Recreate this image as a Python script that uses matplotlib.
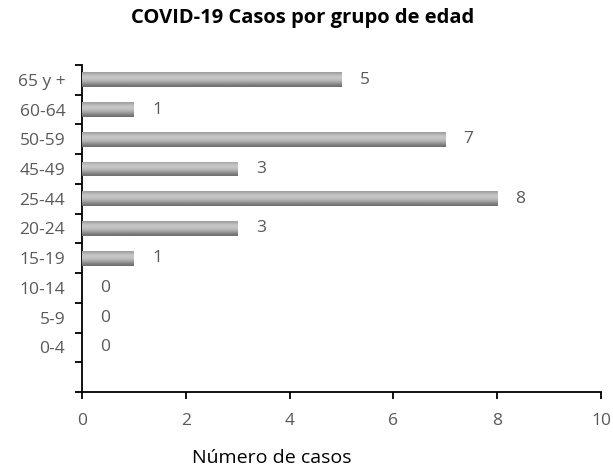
import numpy as np
import matplotlib
matplotlib.use("Agg")
import matplotlib.pyplot as plt

grupos = ["", "0-4", "5-9", "10-14", "15-19", "20-24", "25-44", "45-49", "50-59", "60-64", "65 y +"]
casos = [np.nan, 0, 0, 0, 1, 3, 8, 3, 7, 1, 5]
xticks = [0, 2, 4, 6, 8, 10]

plt.rcParams['font.family'] = ['Open Sans', 'DejaVu Sans']
gris = '#595959'

fig = plt.figure(figsize=(6.13, 4.69), dpi=100)
ax = fig.add_axes([0.1338, 0.1642, 0.8466, 0.6972])

y = np.arange(len(grupos))
vals = np.nan_to_num(casos)
bars = ax.barh(y, vals, height=0.5, color='#a6a6a6', edgecolor='none', zorder=2)

# degradado gris en cada barra (de abajo hacia arriba)
grad = np.array([0.44, 0.50, 0.58, 0.66, 0.72, 0.76, 0.78, 0.76, 0.70, 0.63]).reshape(-1, 1)
for b in bars:
    w = b.get_width()
    if w <= 0:
        continue
    x0, y0, h = b.get_x(), b.get_y(), b.get_height()
    im = ax.imshow(grad, cmap='gray', vmin=0, vmax=1, aspect='auto',
                   extent=[x0, x0 + w, y0, y0 + h], origin='lower', zorder=3,
                   interpolation='bilinear')
    im.set_clip_path(b)

for yi, v in zip(y, casos):
    if np.isnan(v):
        continue
    ax.annotate(f"{int(v)}", (v, yi), xytext=(13, 0), textcoords='offset points',
                va='center', ha='left', fontsize=12.5, color=gris)

ax.set_xlim(0, 10)
ax.set_ylim(-0.5, len(grupos) - 0.5)
ax.set_xticks(xticks)
ax.set_xticklabels([str(t) for t in xticks], color=gris, fontsize=12.5)
ax.set_yticks(y)
ax.set_yticklabels(grupos, color=gris, fontsize=12.5)
ax.tick_params(axis='y', length=0, pad=12)
ax.set_yticks(np.arange(-0.5, len(grupos)), minor=True)
ax.tick_params(axis='y', which='minor', length=5, width=1.3, color='black')
ax.tick_params(axis='x', length=5, width=1.3, color='black', pad=10)

for s in ['top', 'right']:
    ax.spines[s].set_visible(False)
for s in ['left', 'bottom']:
    ax.spines[s].set_linewidth(1.3)

fig.text(0.494, 0.962, "COVID-19 Casos por grupo de edad", ha='center', va='center',
         fontsize=14.5, fontweight='bold')
fig.text(0.444, 0.004, "Número de casos", ha='center', va='bottom', fontsize=14)

fig.savefig("out.png", dpi=100)
